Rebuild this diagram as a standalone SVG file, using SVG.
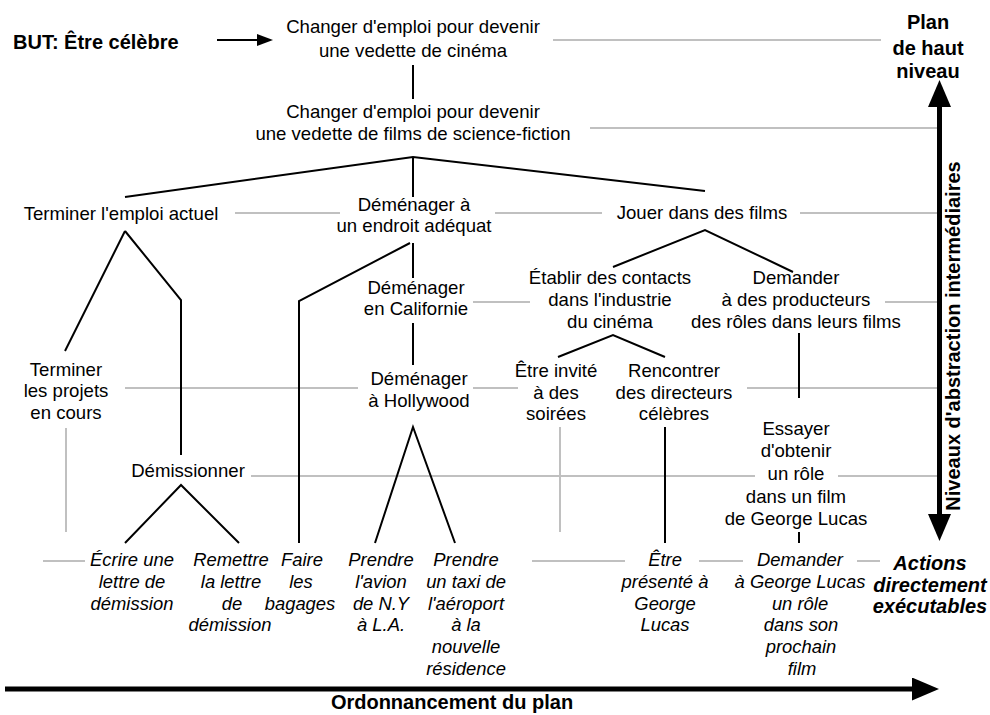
<svg xmlns="http://www.w3.org/2000/svg" width="990" height="715" viewBox="0 0 990 715">
  <defs>
    <style>
      text { font-family: "Liberation Sans", Arial, sans-serif; fill: #000; }
      .n { font-size: 18.6px; text-anchor: middle; }
      .act { font-size: 18.4px; font-style: italic; text-anchor: middle; }
      .lbl { font-size: 20px; font-weight: bold; }
      .tree { stroke: #000; stroke-width: 2; fill: none; }
      .level { stroke: #c0c0c0; stroke-width: 2; fill: none; }
      .axis { stroke: #000; stroke-width: 5; fill: none; }
    </style>
    <marker id="head-small" markerUnits="userSpaceOnUse" markerWidth="16" markerHeight="12" refX="0" refY="6" orient="auto">
      <path d="M0,0 L16,6 L0,12 z" fill="#000"/>
    </marker>
    <marker id="head-big" markerUnits="userSpaceOnUse" markerWidth="27" markerHeight="23" refX="0" refY="11.5" orient="auto-start-reverse">
      <path d="M0,0 L27,11.5 L0,23 z" fill="#000"/>
    </marker>
  </defs>

  <rect width="990" height="715" fill="#fff"/>

  <!-- level guide lines (grey) and decomposition links (black) -->
  <g id="connectors">
    <g id="levels">
      <line class="level" x1="553" y1="40" x2="881" y2="40"/>
      <line class="level" x1="590" y1="128" x2="937" y2="128"/>
      <line class="level" x1="235" y1="213" x2="340" y2="213"/>
      <line class="level" x1="495" y1="213" x2="602" y2="213"/>
      <line class="level" x1="800" y1="213" x2="937" y2="213"/>
      <line class="level" x1="473" y1="302" x2="530" y2="302"/>
      <line class="level" x1="885" y1="302" x2="937" y2="302"/>
      <line class="level" x1="125" y1="388" x2="358" y2="388"/>
      <line class="level" x1="473" y1="388" x2="518" y2="388"/>
      <line class="level" x1="747" y1="388" x2="937" y2="388"/>
      <line class="level" x1="251" y1="476" x2="755" y2="476"/>
      <line class="level" x1="838" y1="476" x2="937" y2="476"/>
      <line class="level" x1="43" y1="561" x2="85" y2="561"/>
      <line class="level" x1="532" y1="561" x2="625" y2="561"/>
      <line class="level" x1="699" y1="561" x2="743" y2="561"/>
      <line class="level" x1="857" y1="561" x2="880" y2="561"/>
      <line class="level" x1="66" y1="428" x2="66" y2="532"/>
      <line class="level" x1="560" y1="427" x2="560" y2="532"/>
    </g>
    <g id="links">
      <line class="tree" x1="413" y1="65" x2="413" y2="99"/>
      <polyline class="tree" points="125,197 413,157 705,191"/>
      <line class="tree" x1="413" y1="157" x2="413" y2="197"/>
      <line class="tree" x1="125" y1="231" x2="65" y2="351"/>
      <polyline class="tree" points="125,231 181,300 181,455"/>
      <polyline class="tree" points="410,243 299,301 299,543"/>
      <line class="tree" x1="413" y1="243" x2="413" y2="278"/>
      <line class="tree" x1="413" y1="323" x2="413" y2="365"/>
      <polyline class="tree" points="613,267 705,230 793,272"/>
      <polyline class="tree" points="558,357 613,335 665,357"/>
      <line class="tree" x1="799" y1="333" x2="799" y2="398"/>
      <polyline class="tree" points="125,543 181,485 239,543"/>
      <polyline class="tree" points="375,543 413,427 455,543"/>
      <line class="tree" x1="665" y1="427" x2="665" y2="543"/>
      <line class="tree" x1="799" y1="532" x2="799" y2="543"/>
    </g>
    <g id="axes">
      <line class="tree" x1="217" y1="40" x2="257" y2="40" marker-end="url(#head-small)"/>
      <line class="axis" x1="939.5" y1="107" x2="939.5" y2="514" marker-start="url(#head-big)" marker-end="url(#head-big)"/>
      <line class="axis" x1="5" y1="689" x2="912" y2="689" marker-end="url(#head-big)"/>
    </g>
  </g>

  <!-- goal and axis labels -->
  <g id="goal"><text class="lbl" x="13" y="49">BUT: Être célèbre</text></g>
  <g id="label-top">
    <text class="lbl" text-anchor="middle"><tspan x="928" y="29">Plan</tspan><tspan x="928" y="55">de haut</tspan><tspan x="928" y="78">niveau</tspan></text>
  </g>
  <g id="label-levels"><text class="lbl" text-anchor="middle" transform="translate(960,336) rotate(-90)">Niveaux d'abstraction intermédiaires</text></g>
  <g id="label-actions">
    <text class="lbl" font-style="italic" text-anchor="middle"><tspan x="930" y="570">Actions</tspan><tspan x="930" y="592">directement</tspan><tspan x="930" y="613">exécutables</tspan></text>
  </g>
  <g id="label-order"><text class="lbl" text-anchor="middle" x="452" y="709">Ordonnancement du plan</text></g>

  <!-- plan nodes -->
  <g id="n-vedette-cinema">
    <text class="n"><tspan x="413" y="33">Changer d'emploi pour devenir</tspan><tspan x="413" y="57">une vedette de cinéma</tspan></text>
  </g>
  <g id="n-vedette-scifi">
    <text class="n"><tspan x="413" y="118">Changer d'emploi pour devenir</tspan><tspan x="413" y="140">une vedette de films de science-fiction</tspan></text>
  </g>
  <g id="n-terminer-emploi"><text class="n" x="121" y="220">Terminer l'emploi actuel</text></g>
  <g id="n-demenager-endroit">
    <text class="n"><tspan x="414" y="210.5">Déménager à</tspan><tspan x="414" y="232">un endroit adéquat</tspan></text>
  </g>
  <g id="n-jouer"><text class="n" x="702" y="219">Jouer dans des films</text></g>
  <g id="n-californie">
    <text class="n"><tspan x="416" y="294">Déménager</tspan><tspan x="416" y="315">en Californie</tspan></text>
  </g>
  <g id="n-contacts">
    <text class="n"><tspan x="610" y="284">Établir des contacts</tspan><tspan x="610" y="306">dans l'industrie</tspan><tspan x="610" y="328">du cinéma</tspan></text>
  </g>
  <g id="n-producteurs">
    <text class="n"><tspan x="796" y="284">Demander</tspan><tspan x="796" y="306">à des producteurs</tspan><tspan x="796" y="328">des rôles dans leurs films</tspan></text>
  </g>
  <g id="n-projets">
    <text class="n"><tspan x="66" y="375.5">Terminer</tspan><tspan x="66" y="397">les projets</tspan><tspan x="66" y="418.5">en cours</tspan></text>
  </g>
  <g id="n-hollywood">
    <text class="n"><tspan x="419" y="385">Déménager</tspan><tspan x="419" y="406.5">à Hollywood</tspan></text>
  </g>
  <g id="n-soirees">
    <text class="n"><tspan x="556" y="377">Être invité</tspan><tspan x="556" y="398.5">à des</tspan><tspan x="556" y="420">soirées</tspan></text>
  </g>
  <g id="n-directeurs">
    <text class="n"><tspan x="674" y="377">Rencontrer</tspan><tspan x="674" y="398.5">des directeurs</tspan><tspan x="674" y="420">célèbres</tspan></text>
  </g>
  <g id="n-essayer-role">
    <text class="n"><tspan x="796" y="435">Essayer</tspan><tspan x="796" y="457">d'obtenir</tspan><tspan x="796" y="480">un rôle</tspan><tspan x="796" y="502.5">dans un film</tspan><tspan x="796" y="525">de George Lucas</tspan></text>
  </g>
  <g id="n-demissionner"><text class="n" x="188" y="477">Démissionner</text></g>

  <!-- directly executable actions -->
  <g id="a-ecrire">
    <text class="act"><tspan x="132" y="566">Écrire une</tspan><tspan x="132" y="588">lettre de</tspan><tspan x="132" y="609.5">démission</tspan></text>
  </g>
  <g id="a-remettre">
    <text class="act"><tspan x="231" y="566">Remettre</tspan><tspan x="231" y="588">la lettre</tspan><tspan x="232" y="609.5">de</tspan><tspan x="230" y="631">démission</tspan></text>
  </g>
  <g id="a-bagages">
    <text class="act"><tspan x="302" y="566">Faire</tspan><tspan x="301" y="588">les</tspan><tspan x="300" y="609.5">bagages</tspan></text>
  </g>
  <g id="a-avion">
    <text class="act"><tspan x="381" y="566">Prendre</tspan><tspan x="381" y="588">l'avion</tspan><tspan x="381" y="609.5">de N.Y</tspan><tspan x="381" y="631">à L.A.</tspan></text>
  </g>
  <g id="a-taxi">
    <text class="act"><tspan x="466" y="566">Prendre</tspan><tspan x="466" y="588">un taxi de</tspan><tspan x="466" y="609.5">l'aéroport</tspan><tspan x="466" y="631">à la</tspan><tspan x="466" y="653">nouvelle</tspan><tspan x="466" y="674.5">résidence</tspan></text>
  </g>
  <g id="a-presente">
    <text class="act"><tspan x="665" y="566">Être</tspan><tspan x="665" y="588">présenté à</tspan><tspan x="665" y="609.5">George</tspan><tspan x="665" y="631">Lucas</tspan></text>
  </g>
  <g id="a-demander-lucas">
    <text class="act"><tspan x="800" y="566">Demander</tspan><tspan x="800" y="588">à George Lucas</tspan><tspan x="800" y="609.5">un rôle</tspan><tspan x="801" y="631">dans son</tspan><tspan x="801" y="653">prochain</tspan><tspan x="802" y="674.5">film</tspan></text>
  </g>
</svg>
